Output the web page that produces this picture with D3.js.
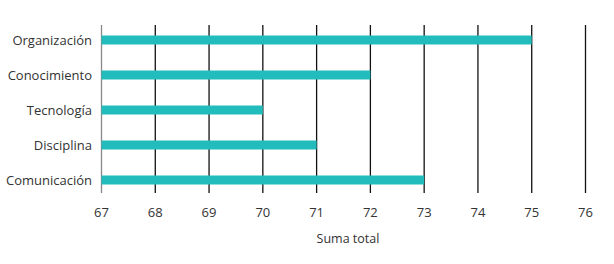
<!DOCTYPE html>
<html><head><meta charset="utf-8">
<script src="https://cdn.jsdelivr.net/npm/d3@7"></script>
<style>body{margin:0;background:#fff}svg{display:block}text{font-family:"Open Sans",sans-serif;fill:#333}</style>
</head><body><svg id="c" width="614" height="264"></svg>
<script>
const categories = ["Organización","Conocimiento","Tecnología","Disciplina","Comunicación"];
const values = [75, 72, 70, 71, 73];
const ticks = [67,68,69,70,71,72,73,74,75,76];
const axisTitle = "Suma total";

const svg = d3.select("#c");
const x = d3.scaleLinear().domain([67,76]).range([101.5,585.5]);
const y = d3.scaleBand().domain(categories).range([22.5,197.5]);
const gTop = 25, gBottom = 193;

svg.append("g").selectAll("line").data(ticks).join("line")
  .attr("x1", d=>x(d)).attr("x2", d=>x(d))
  .attr("y1", gTop).attr("y2", gBottom)
  .attr("stroke", d=> d===67 ? "#888" : "#111").attr("stroke-width",1.3);

svg.append("g").selectAll("rect").data(categories).join("rect")
  .attr("x", x(67)).attr("width", (d,i)=>x(values[i])-x(67))
  .attr("y", d=>y(d)+y.bandwidth()/2-4.5).attr("height", 9)
  .attr("fill","#22BCBC");

svg.append("g").selectAll("text").data(categories).join("text")
  .attr("x", 92).attr("y", d=>y(d)+y.bandwidth()/2).attr("dy","0.35em")
  .attr("text-anchor","end").attr("font-size",13).text(d=>d);

svg.append("g").selectAll("text").data(ticks).join("text")
  .attr("x", d=>x(d)).attr("y", 212).attr("dy","0.35em")
  .attr("text-anchor","middle").attr("font-size",13).text(d=>d);

svg.append("text").attr("x",348).attr("y",239).attr("dy","0.35em")
  .attr("text-anchor","middle").attr("font-size",12.5).text(axisTitle);
</script></body></html>
